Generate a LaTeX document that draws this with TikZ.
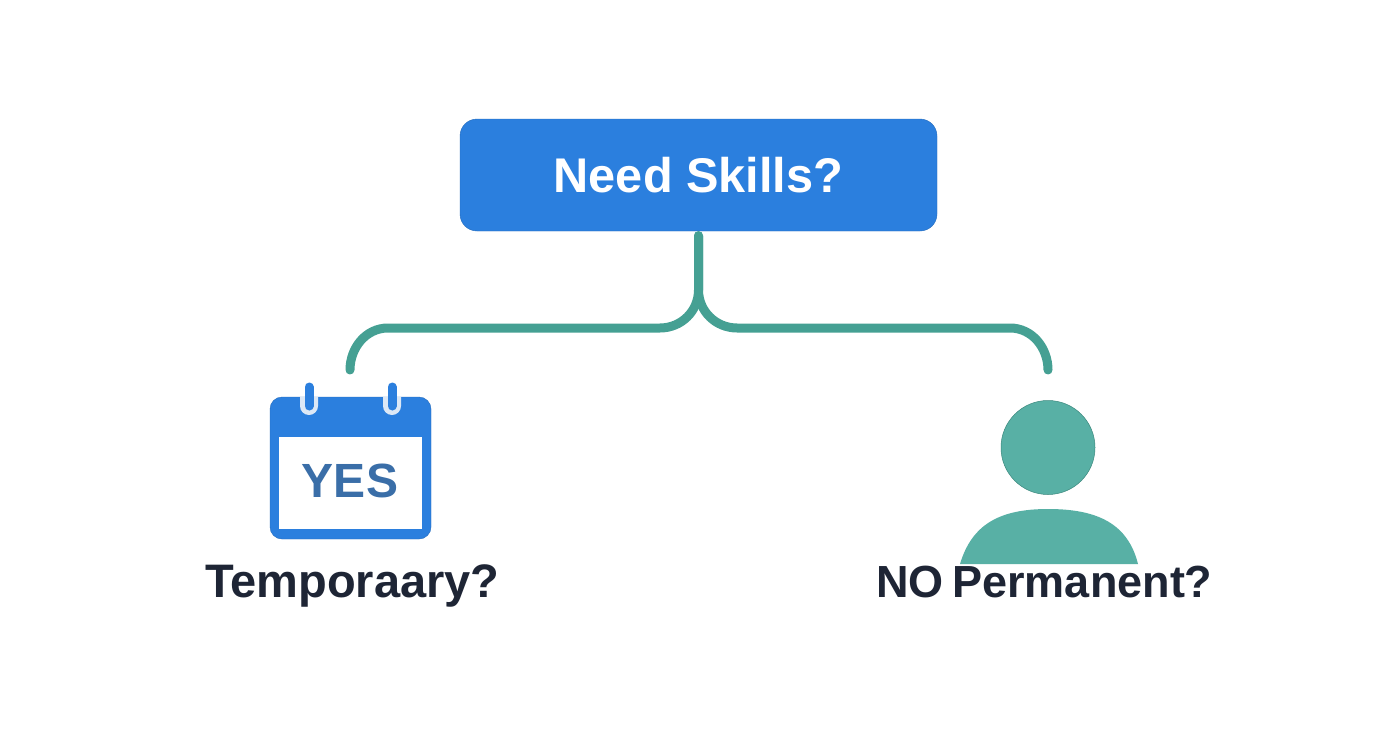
\documentclass[tikz,border=0pt]{standalone}
\usepackage{fontspec}
\setmainfont{Liberation Sans}
\usetikzlibrary{calc, positioning}
\definecolor{boxblue}{HTML}{2B7FDE}
\definecolor{linkteal}{HTML}{45A093}
\definecolor{personteal}{HTML}{58B0A5}
\definecolor{inkdark}{HTML}{1E2535}
\definecolor{yesblue}{HTML}{3A6EA8}
\definecolor{halo}{HTML}{DCE8F6}

\begin{document}
\begin{tikzpicture}[x=1pt, y=-1pt,
		main/.style = {draw=boxblue!85!black, fill=boxblue, rounded corners=17pt, minimum width=477pt, minimum height=112pt, text=white, font=\bfseries\fontsize{48.7}{50}\selectfont},
		label/.style = {text=inkdark, inner sep=0pt, anchor=base, font=\bfseries\fontsize{47}{52}\selectfont},
		link/.style = {draw=linkteal, line width=9pt, line cap=round, shorten <=4.5pt},
		ring/.style = {line cap=round, line width=9pt, draw=boxblue}]
		\useasboundingbox (0,0) rectangle (1392,752);
		\fill[white] (0,0) rectangle (1392,752);
		\node[main] (skills) at (698.5,175) {Need Skills?};
		\coordinate (fork) at (698.5,290);
		\coordinate (yesturn) at (660,328);
		\coordinate (yesbend) at (388,328);
		\coordinate (yesend) at (350,370);
		\coordinate (noturn) at (737,328);
		\coordinate (nobend) at (1010,328);
		\coordinate (noend) at (1048,370);
		\draw[link] (skills.south) -- (fork) to [out=-90,in=0] (yesturn) -- (yesbend) to [out=180,in=90] (yesend);
		\draw[link] (skills.south) -- (fork) to [out=-90,in=180] (noturn) -- (nobend) to [out=0,in=90] (noend);
		% calendar
		\node[draw=boxblue!85!black, fill=boxblue, rounded corners=12pt, minimum width=161pt, minimum height=142pt] (calendar) at (350.5,468) {};
		\node[fill=white, minimum width=143pt, minimum height=92pt, inner sep=0pt] (window) at (350.5,483) {};
		\node[text=yesblue, inner sep=0pt, anchor=base, font=\bfseries\fontsize{48}{50}\selectfont] (yes) at (350,497) {YES};
		\fill[halo] (300,397) -- (300,406) arc[start angle=180, end angle=0, radius=9] -- (318,397) -- cycle;
		\fill[halo] (383,397) -- (383,406) arc[start angle=180, end angle=0, radius=9] -- (401,397) -- cycle;
		\draw[ring] (309,387) -- (309,406);
		\draw[ring] (392,387) -- (392,406);
		% person
		\node[circle, fill=personteal, draw=linkteal!85!black, line width=0.5pt, minimum size=94pt, inner sep=0pt] (head) at (1048,447.5) {};
		\fill[personteal] (960,564) .. controls (972,524) and (1000,509) .. (1048,509) .. controls (1098,509) and (1128,524) .. (1138,564) -- cycle;
		\node[label] (temporary) at (352.5,597) {Temporaary?};
		\node[label, font=\bfseries\fontsize{45}{50}\selectfont] (permanent) at (1044.5,597) {NO\hspace{-4pt} Permanent?};
	\end{tikzpicture}
\end{document}
